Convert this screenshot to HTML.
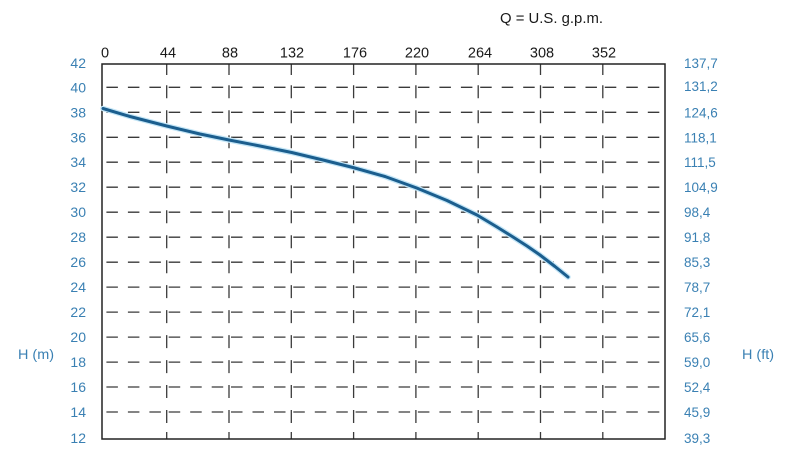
<!DOCTYPE html>
<html>
<head>
<meta charset="utf-8">
<style>
  html, body { margin: 0; padding: 0; background: #ffffff; }
  body { width: 786px; height: 476px; overflow: hidden; }
  svg { display: block; }
  text { font-family: "Liberation Sans", Arial, sans-serif; }
</style>
</head>
<body>
<svg width="786" height="476" viewBox="0 0 786 476" xmlns="http://www.w3.org/2000/svg" xmlns:xlink="http://www.w3.org/1999/xlink">
  <defs>
    <path id="vline" d="M0 64 V75 M0 85.3 V98.3 M0 110.3 V123.3 M0 135.3 V148.3 M0 160.2 V173.2 M0 185.2 V198.2 M0 210.2 V223.2 M0 235.2 V248.2 M0 260.2 V273.2 M0 285.1 V298.1 M0 310.1 V323.1 M0 335.1 V348.1 M0 360.1 V373.1 M0 385 V398 M0 410 V423 M0 432 V439"/>
    <line id="hline" x1="104.4" y1="0" x2="665" y2="0"/>
  </defs>

  <rect x="0" y="0" width="786" height="476" fill="#ffffff"/>

  <!-- Title -->
  <text x="500" y="23" font-size="14.5" fill="#1a1a1a" textLength="103" lengthAdjust="spacingAndGlyphs">Q = U.S. g.p.m.</text>

  <!-- Top axis labels -->
  <g font-size="14.5" fill="#1a1a1a" text-anchor="middle">
    <text x="105" y="57.5">0</text>
    <text x="168" y="57.5">44</text>
    <text x="230" y="57.5">88</text>
    <text x="292" y="57.5">132</text>
    <text x="355" y="57.5">176</text>
    <text x="417" y="57.5">220</text>
    <text x="480" y="57.5">264</text>
    <text x="542" y="57.5">308</text>
    <text x="604" y="57.5">352</text>
  </g>

  <!-- Left axis labels -->
  <g font-size="14" fill="#3a80b3" text-anchor="end">
    <text x="86" y="68">42</text>
    <text x="86" y="92.3">40</text>
    <text x="86" y="117.3">38</text>
    <text x="86" y="142.3">36</text>
    <text x="86" y="167.2">34</text>
    <text x="86" y="192.2">32</text>
    <text x="86" y="217.2">30</text>
    <text x="86" y="242.2">28</text>
    <text x="86" y="267.2">26</text>
    <text x="86" y="292.1">24</text>
    <text x="86" y="317.1">22</text>
    <text x="86" y="342.1">20</text>
    <text x="86" y="367.1">18</text>
    <text x="86" y="392">16</text>
    <text x="86" y="417">14</text>
    <text x="86" y="443">12</text>
  </g>

  <!-- Right axis labels -->
  <g font-size="13.5" fill="#3a80b3">
    <text x="684" y="68">137,7</text>
    <text x="684" y="91">131,2</text>
    <text x="684" y="117.3">124,6</text>
    <text x="684" y="142.3">118,1</text>
    <text x="684" y="167.2">111,5</text>
    <text x="684" y="192.2">104,9</text>
    <text x="684" y="217.2">98,4</text>
    <text x="684" y="242.2">91,8</text>
    <text x="684" y="267.2">85,3</text>
    <text x="684" y="292.1">78,7</text>
    <text x="684" y="317.1">72,1</text>
    <text x="684" y="342.1">65,6</text>
    <text x="684" y="367.1">59,0</text>
    <text x="684" y="392">52,4</text>
    <text x="684" y="417">45,9</text>
    <text x="684" y="443">39,3</text>
  </g>

  <!-- Axis titles -->
  <text x="18" y="359" font-size="14" fill="#3a80b3" textLength="36" lengthAdjust="spacingAndGlyphs">H (m)</text>
  <text x="742" y="359" font-size="14" fill="#3a80b3" textLength="32" lengthAdjust="spacingAndGlyphs">H (ft)</text>

  <!-- Horizontal dashed grid lines -->
  <g stroke="#3a3a3a" stroke-width="1.3" fill="none" stroke-dasharray="0 2 11.5 10 11.5 10 11.5 5.8">
    <use xlink:href="#hline" href="#hline" y="87.3"/>
    <use xlink:href="#hline" href="#hline" y="112.3"/>
    <use xlink:href="#hline" href="#hline" y="137.3"/>
    <use xlink:href="#hline" href="#hline" y="162.2"/>
    <use xlink:href="#hline" href="#hline" y="187.2"/>
    <use xlink:href="#hline" href="#hline" y="212.2"/>
    <use xlink:href="#hline" href="#hline" y="237.2"/>
    <use xlink:href="#hline" href="#hline" y="262.2"/>
    <use xlink:href="#hline" href="#hline" y="287.1"/>
    <use xlink:href="#hline" href="#hline" y="312.1"/>
    <use xlink:href="#hline" href="#hline" y="337.1"/>
    <use xlink:href="#hline" href="#hline" y="362.1"/>
    <use xlink:href="#hline" href="#hline" y="387"/>
    <use xlink:href="#hline" href="#hline" y="412"/>
  </g>

  <!-- Vertical dashed grid lines -->
  <g stroke="#3a3a3a" stroke-width="1.3" fill="none">
    <use xlink:href="#vline" href="#vline" x="166.7"/>
    <use xlink:href="#vline" href="#vline" x="229"/>
    <use xlink:href="#vline" href="#vline" x="291.3"/>
    <use xlink:href="#vline" href="#vline" x="353.6"/>
    <use xlink:href="#vline" href="#vline" x="415.9"/>
    <use xlink:href="#vline" href="#vline" x="478.2"/>
    <use xlink:href="#vline" href="#vline" x="540.5"/>
    <use xlink:href="#vline" href="#vline" x="602.8"/>
  </g>

  <!-- Plot box -->
  <rect x="102" y="64" width="563" height="375" fill="none" stroke="#222" stroke-width="1.5"/>

  <!-- Curve -->
  <polyline fill="none" stroke="#c4e6f7" stroke-width="5.5" stroke-linejoin="round" stroke-linecap="round"
    points="103,108.5 130,116.5 166.7,126 200,134 229,140 260,146 291.7,152.5 323,160 353,167.5 385,176.5 416.7,188 447,200.5 477,215 497,227 513,237 527,246 540,255 555,266.5 568,277"/>
  <polyline fill="none" stroke="#1b5e8e" stroke-width="3" stroke-linejoin="round" stroke-linecap="round"
    points="103,108.5 130,116.5 166.7,126 200,134 229,140 260,146 291.7,152.5 323,160 353,167.5 385,176.5 416.7,188 447,200.5 477,215 497,227 513,237 527,246 540,255 555,266.5 568,277"/>
</svg>
</body>
</html>
